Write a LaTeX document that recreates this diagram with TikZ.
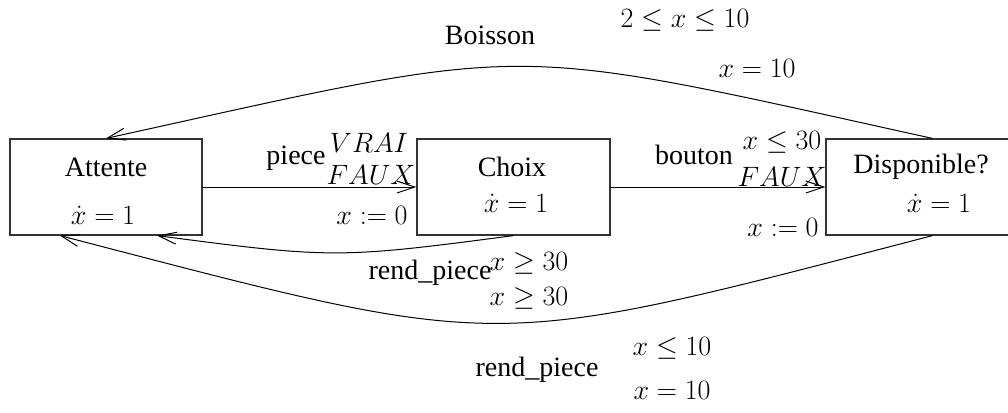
\RequirePackage{fix-cm}
\documentclass[tikz,border=0pt]{standalone}
\usepackage[no-math]{fontspec}
\setmainfont{Liberation Serif}
\usetikzlibrary{arrows.meta}
\begin{document}
\begin{tikzpicture}[x=1pt,y=-1pt, font=\fontsize{28}{34}\selectfont,
  box/.style={draw=black!80,line width=1.2pt,minimum width=192pt,minimum height=96pt,inner sep=0pt},
  arr/.style={draw,line width=1pt,-{Straight Barb[length=18pt,width=12pt,line width=1pt]}},
  lbl/.style={inner sep=0pt}]
\useasboundingbox (0,0) rectangle (1008,412);
\clip (0,0) rectangle (1008,412);
% states
\node[box] (A) at (106,187) {};
\node[box,minimum width=193pt] (C) at (513.5,187) {};
\node[box,minimum width=193pt] (D) at (922.5,187) {};
\node[lbl] (A1) at (106,167) {Attente};
\node[lbl] (A2) at (103,215) {$\dot x = 1$};
\node[lbl] (C1) at (512,167) {Choix};
\node[lbl] (C2) at (516,203) {$\dot x = 1$};
\node[lbl] (D1) at (921,167) {Disponible?};
\node[lbl] (D2) at (939,203) {$\dot x = 1$};
% transitions
\draw[arr] (A.east) -- (C.west);
\draw[arr] (C.east) -- (D.west);
\draw[arr] (C.south) .. controls +(-175,23) and +(175,23) .. ([xshift=51pt]A.south);
\draw[arr] ([xshift=10pt]D.north) .. controls +(-436,-96) and +(436,-96) .. (A.north);
\draw[arr] ([xshift=10pt]D.south) .. controls +(-450,117) and +(450,117) .. ([xshift=-46pt]A.south);
% labels A -> C
\node[lbl] (l1) at (296,158) {piece};
\node[lbl] (l2) at (369,143) {$VRAI$};
\node[lbl] (l3) at (371,175) {$FAUX$};
\node[lbl] (l4) at (372,215) {$x := 0$};
% labels C -> D
\node[lbl] (l5) at (694,155) {bouton};
\node[lbl] (l6) at (782,142) {$x \leq 30$};
\node[lbl] (l7) at (782,177) {$FAUX$};
\node[lbl] (l8) at (783,227) {$x := 0$};
% labels C -> A
\node[lbl] (l9) at (430,273) {rend\_piece};
\node[lbl] (l10) at (529,263) {$x \geq 30$};
\node[lbl] (l11) at (529,298) {$x \geq 30$};
% labels D -> A top
\node[lbl] (l12) at (490,35) {Boisson};
\node[lbl] (l13) at (685,20) {$2 \leq x \leq 10$};
\node[lbl] (l14) at (757,68) {$x = 10$};
% labels D -> A bottom
\node[lbl] (l15) at (537,370) {rend\_piece};
\node[lbl] (l16) at (672,348) {$x \leq 10$};
\node[lbl] (l17) at (672,390) {$x = 10$};
\end{tikzpicture}
\end{document}
